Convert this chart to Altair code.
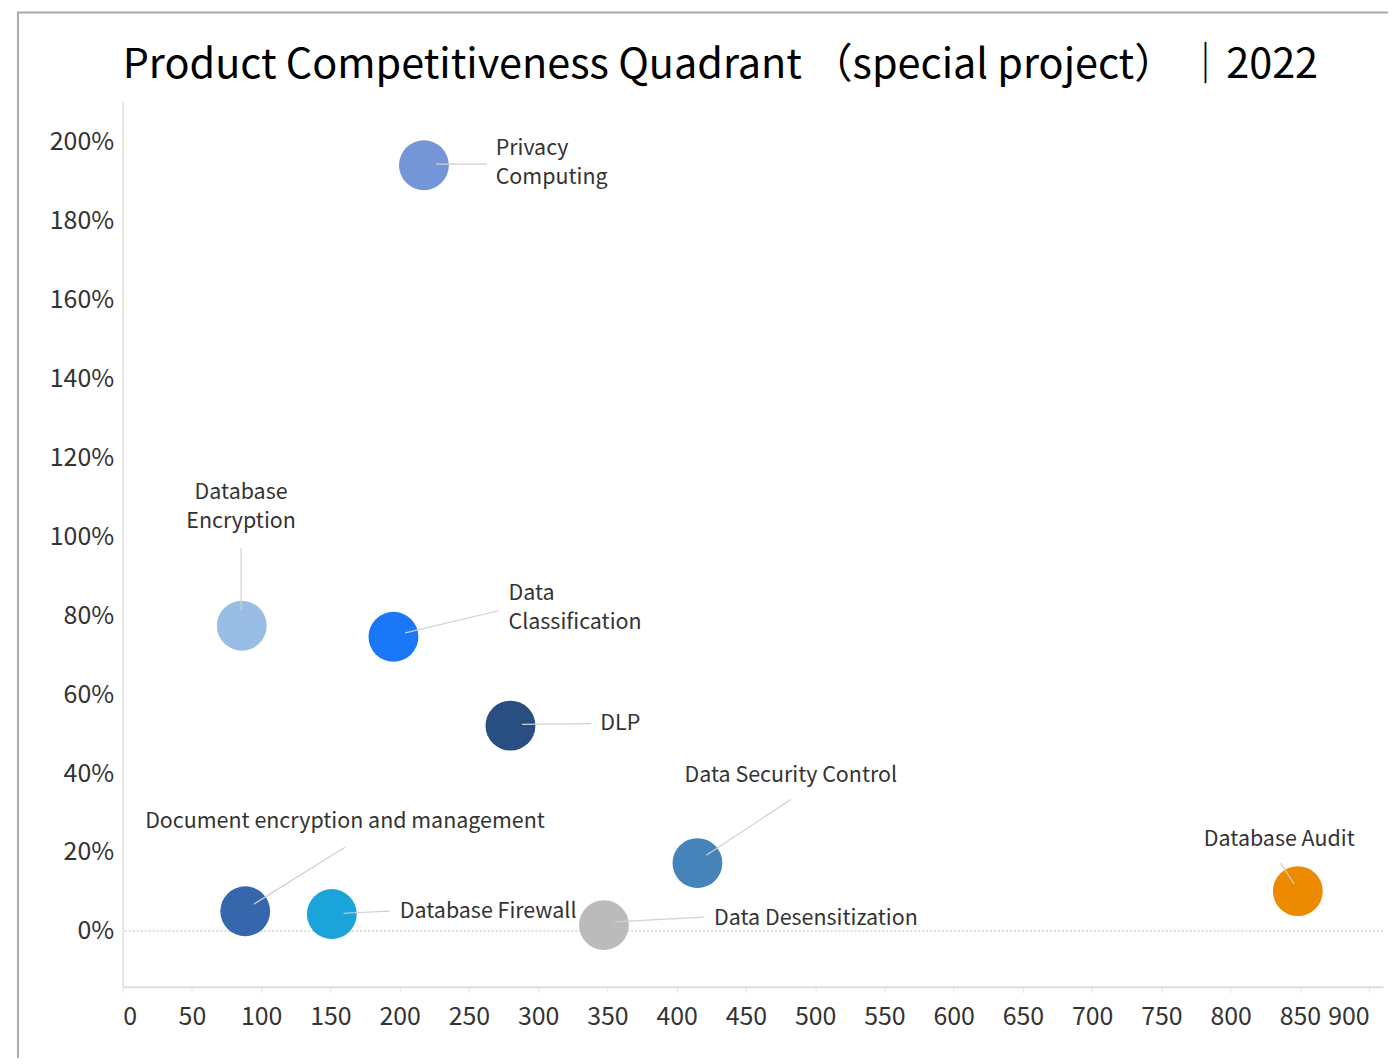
import altair as alt
import pandas as pd

names = ["Privacy Computing", "Database Encryption", "Data Classification", "DLP",
         "Data Security Control", "Document encryption and management",
         "Database Firewall", "Data Desensitization", "Database Audit"]
label_text = ["Privacy\nComputing", "Database\nEncryption", "Data\nClassification", "DLP",
              "Data Security Control", "Document encryption and management",
              "Database Firewall", "Data Desensitization", "Database Audit"]
x_vals = [217.5, 86.0, 195.5, 280.0, 415.0, 88.5, 151.0, 347.5, 848.5]
y_vals = [193.9, 77.3, 74.5, 52.0, 17.2, 5.0, 4.3, 1.5, 10.1]
colors = ["#7596d6", "#9abde5", "#1a77f8", "#284e82", "#4583bb", "#3667ac",
          "#1ba4d9", "#bbbbbb", "#ed8b00"]

# label anchors (data units, first line) and leader line ends
label_x = [269.3, 85.5, 278.6, 344.9, 482.4, 160.5, 200.1, 427.0, 835.1]
label_y = [198.0, 110.9, 85.4, 52.3, 39.2, 27.6, 4.8, 3.1, 23.0]
label_align = ["left", "center", "left", "left", "center", "center", "left", "left", "center"]
line_x1 = [226.0, 85.5, 204.0, 288.3, 421.4, 94.6, 159.4, 355.2, 845.8]
line_y1 = [194.2, 81.3, 75.5, 52.3, 19.2, 6.8, 4.5, 2.3, 11.9]
line_x2 = [262.8, 85.5, 271.4, 338.4, 482.4, 160.5, 193.0, 419.7, 836.1]
line_y2 = [194.2, 97.0, 81.1, 52.5, 33.3, 21.2, 5.05, 3.5, 17.2]

x_ticks = list(range(0, 901, 50))
y_ticks = list(range(0, 201, 20))

df = pd.DataFrame({
    "name": names, "label": label_text, "x": x_vals, "y": y_vals,
    "lx": label_x, "ly": label_y, "align": label_align,
    "x1": line_x1, "y1": line_y1, "x2": line_x2, "y2": line_y2,
})

FONT = "Noto Sans CJK SC"

xscale = alt.Scale(domain=[0, 910], nice=False, zero=False)
yscale = alt.Scale(domain=[-14.1, 210.1], nice=False, zero=False)

base = alt.Chart(df)

x_label_align = {
    "condition": [
        {"test": "datum.value == 0", "value": "left"},
        {"test": "datum.value == 900", "value": "right"},
    ],
    "value": "center",
}

points = base.mark_circle(size=2500, opacity=1).encode(
    x=alt.X("x:Q", scale=xscale, axis=alt.Axis(
        values=x_ticks, title=None, grid=False, labelFlush=False,
        labelAlign=x_label_align,
        domainColor="#dddddd", domainWidth=2, tickColor="#e6e6e6", tickSize=6,
        labelFontSize=25, labelColor="#333333", labelPadding=12, labelFont=FONT)),
    y=alt.Y("y:Q", scale=yscale, axis=alt.Axis(
        values=y_ticks, title=None, grid=False, ticks=False,
        labelExpr="datum.value + '%'", domainColor="#dddddd", domainWidth=1.5,
        labelFontSize=25, labelColor="#333333", labelPadding=9, labelFont=FONT)),
    color=alt.Color("name:N", scale=alt.Scale(domain=names, range=colors), legend=None),
)

zero_line = alt.Chart(pd.DataFrame({"z": [0]})).mark_rule(
    color="#bbbbbb", strokeDash=[2, 2], strokeWidth=1).encode(y=alt.Y("z:Q", scale=yscale))

leaders = base.mark_rule(color="#d0d0d0", strokeWidth=1.2).encode(
    x=alt.X("x1:Q", scale=xscale), y=alt.Y("y1:Q", scale=yscale),
    x2="x2:Q", y2="y2:Q")

def labels(al):
    return base.transform_filter(alt.datum.align == al).mark_text(
        align=al, baseline="middle", fontSize=21.5, font=FONT, color="#333333",
        lineBreak="\n", lineHeight=29).encode(
        x=alt.X("lx:Q", scale=xscale), y=alt.Y("ly:Q", scale=yscale), text="label:N")

frame_left = alt.Chart(pd.DataFrame({"a": [0]})).mark_rule(color="#aaaaaa", strokeWidth=2).encode(
    x=alt.value(-105), y=alt.value(-89), y2=alt.value(990))
frame_top = alt.Chart(pd.DataFrame({"a": [0]})).mark_rule(color="#aaaaaa", strokeWidth=2).encode(
    x=alt.value(-106), x2=alt.value(1300), y=alt.value(-89))

chart = alt.layer(zero_line, frame_left, frame_top, points, leaders, labels("left"), labels("center")).properties(
    width=1264, height=888,
    title=alt.TitleParams("Product Competitiveness Quadrant （special project） ｜2022",
                          anchor="start", fontSize=41.5, font=FONT, fontWeight="normal",
                          color="#000000", offset=0, dy=75, frame="group"),
    autosize=alt.AutoSizeParams(type="none"),
    padding={"left": 115, "top": 92, "right": 5, "bottom": 70},
).configure_view(stroke=None)

chart.save("out.html", embed_options={"renderer": "svg", "actions": False})
